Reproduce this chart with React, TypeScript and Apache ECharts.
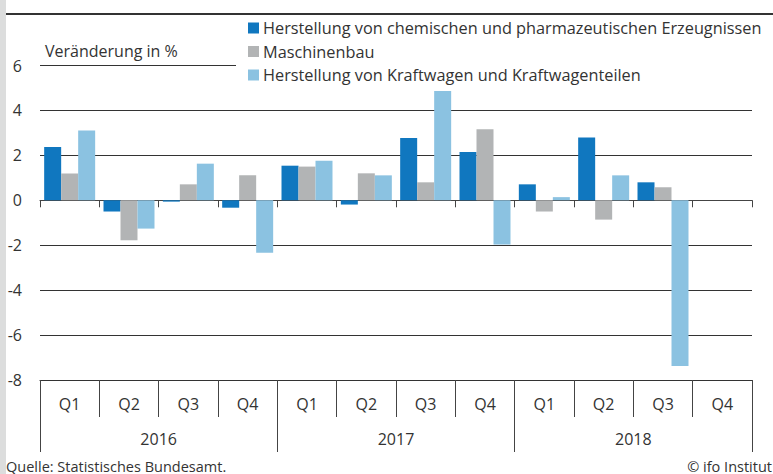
import React, { useEffect, useRef } from "react";
import * as echarts from "echarts";

const quarters = ["Q1", "Q2", "Q3", "Q4", "Q1", "Q2", "Q3", "Q4", "Q1", "Q2", "Q3", "Q4"];
const years = ["2016", "2017", "2018"];
const chemie = [2.37, -0.5, -0.06, -0.33, 1.54, -0.19, 2.77, 2.15, 0.71, 2.8, 0.8, null];
const maschinenbau = [1.19, -1.78, 0.71, 1.11, 1.5, 1.2, 0.8, 3.16, -0.5, -0.86, 0.58, null];
const kraftwagen = [3.11, -1.26, 1.63, -2.34, 1.76, 1.11, 4.86, -1.97, 0.14, 1.11, -7.38, null];
const seriesNames = [
  "Herstellung von chemischen und pharmazeutischen Erzeugnissen",
  "Maschinenbau",
  "Herstellung von Kraftwagen und Kraftwagenteilen",
];
const colors = ["#1077bf", "#b2b4b5", "#8bc2e1"];

const FONT = "Open Sans";
const TXT = "#333333";

export default function App() {
  const ref = useRef<HTMLDivElement>(null);
  useEffect(() => {
    if (!ref.current) return;
    const chart = echarts.init(ref.current, null, { renderer: "svg" });
    const data = [chemie, maschinenbau, kraftwagen];
    chart.setOption({
      animation: false,
      textStyle: { fontFamily: FONT, color: TXT },
      grid: { left: 40, right: 21, top: 65.5, bottom: 94, containLabel: false },
      legend: {
        orient: "vertical",
        left: 236,
        top: 15,
        padding: [5, 30, 5, 12],
        backgroundColor: "#ffffff",
        itemWidth: 11,
        itemHeight: 11,
        itemGap: 7.5,
        icon: "rect",
        textStyle: { fontFamily: FONT, fontSize: 16.3, color: TXT, lineHeight: 15, padding: [0, 0, 0, -1] },
        data: seriesNames,
      },
      xAxis: [
        {
          type: "category",
          data: quarters,
          position: "bottom",
          axisLine: { show: true, onZero: true, lineStyle: { color: "#444", width: 1 } },
          axisTick: { show: true, interval: 0, length: 7, lineStyle: { color: "#444" } },
          axisLabel: { show: false },
          splitLine: { show: false },
        },
        {
          type: "category",
          data: quarters,
          position: "bottom",
          offset: 0,
          axisLine: { show: true, onZero: false, lineStyle: { color: "#333", width: 1 } },
          axisTick: { show: true, interval: 0, length: 37, lineStyle: { color: "#444" } },
          axisLabel: { show: true, interval: 0, margin: 16, fontSize: 16, color: TXT, fontFamily: FONT },
          splitLine: { show: false },
        },
        {
          type: "category",
          data: years,
          position: "bottom",
          offset: 0,
          axisLine: { show: false, onZero: false },
          axisTick: { show: true, interval: 0, length: 72, lineStyle: { color: "#444" } },
          axisLabel: { show: true, interval: 0, margin: 51, fontSize: 16, color: TXT, fontFamily: FONT },
          splitLine: { show: false },
        },
      ],
      yAxis: {
        type: "value",
        min: -8,
        max: 6,
        interval: 2,
        axisLine: { show: false },
        axisTick: { show: false },
        axisLabel: { margin: 18, fontSize: 16, color: TXT, fontFamily: FONT },
        splitLine: { show: true, lineStyle: { color: "#333", width: 1 } },
      },
      graphic: [
        { type: "rect", left: 0, top: 0, shape: { x: 0, y: 0, width: 6, height: 474 }, style: { fill: "#dcdddd" }, z: 10 },
        { type: "line", shape: { x1: 6, y1: 14, x2: 773, y2: 14 }, style: { stroke: "#333", lineWidth: 2 }, z: 10 },
        { type: "text", x: 45, y: 51, style: { text: "Veränderung in %", font: `16px ${FONT}`, fill: TXT, textVerticalAlign: "middle" }, z: 10 },
        { type: "text", x: 6, y: 466, style: { text: "Quelle: Statistisches Bundesamt.", font: `14.5px ${FONT}`, fill: TXT, textVerticalAlign: "middle" }, z: 10 },
        { type: "text", x: 772, y: 466, style: { text: "© ifo Institut", font: `14.5px ${FONT}`, fill: TXT, textAlign: "right", textVerticalAlign: "middle" }, z: 10 },
      ],
      series: data.map((d, i) => ({
        name: seriesNames[i],
        type: "bar",
        xAxisIndex: 1,
        data: d,
        barWidth: 17,
        barGap: "0%",
        itemStyle: { color: colors[i] },
      })),
    });
    return () => chart.dispose();
  }, []);
  return <div ref={ref} style={{ width: 773, height: 474, position: "absolute", left: 0, top: 0 }} />;
}
